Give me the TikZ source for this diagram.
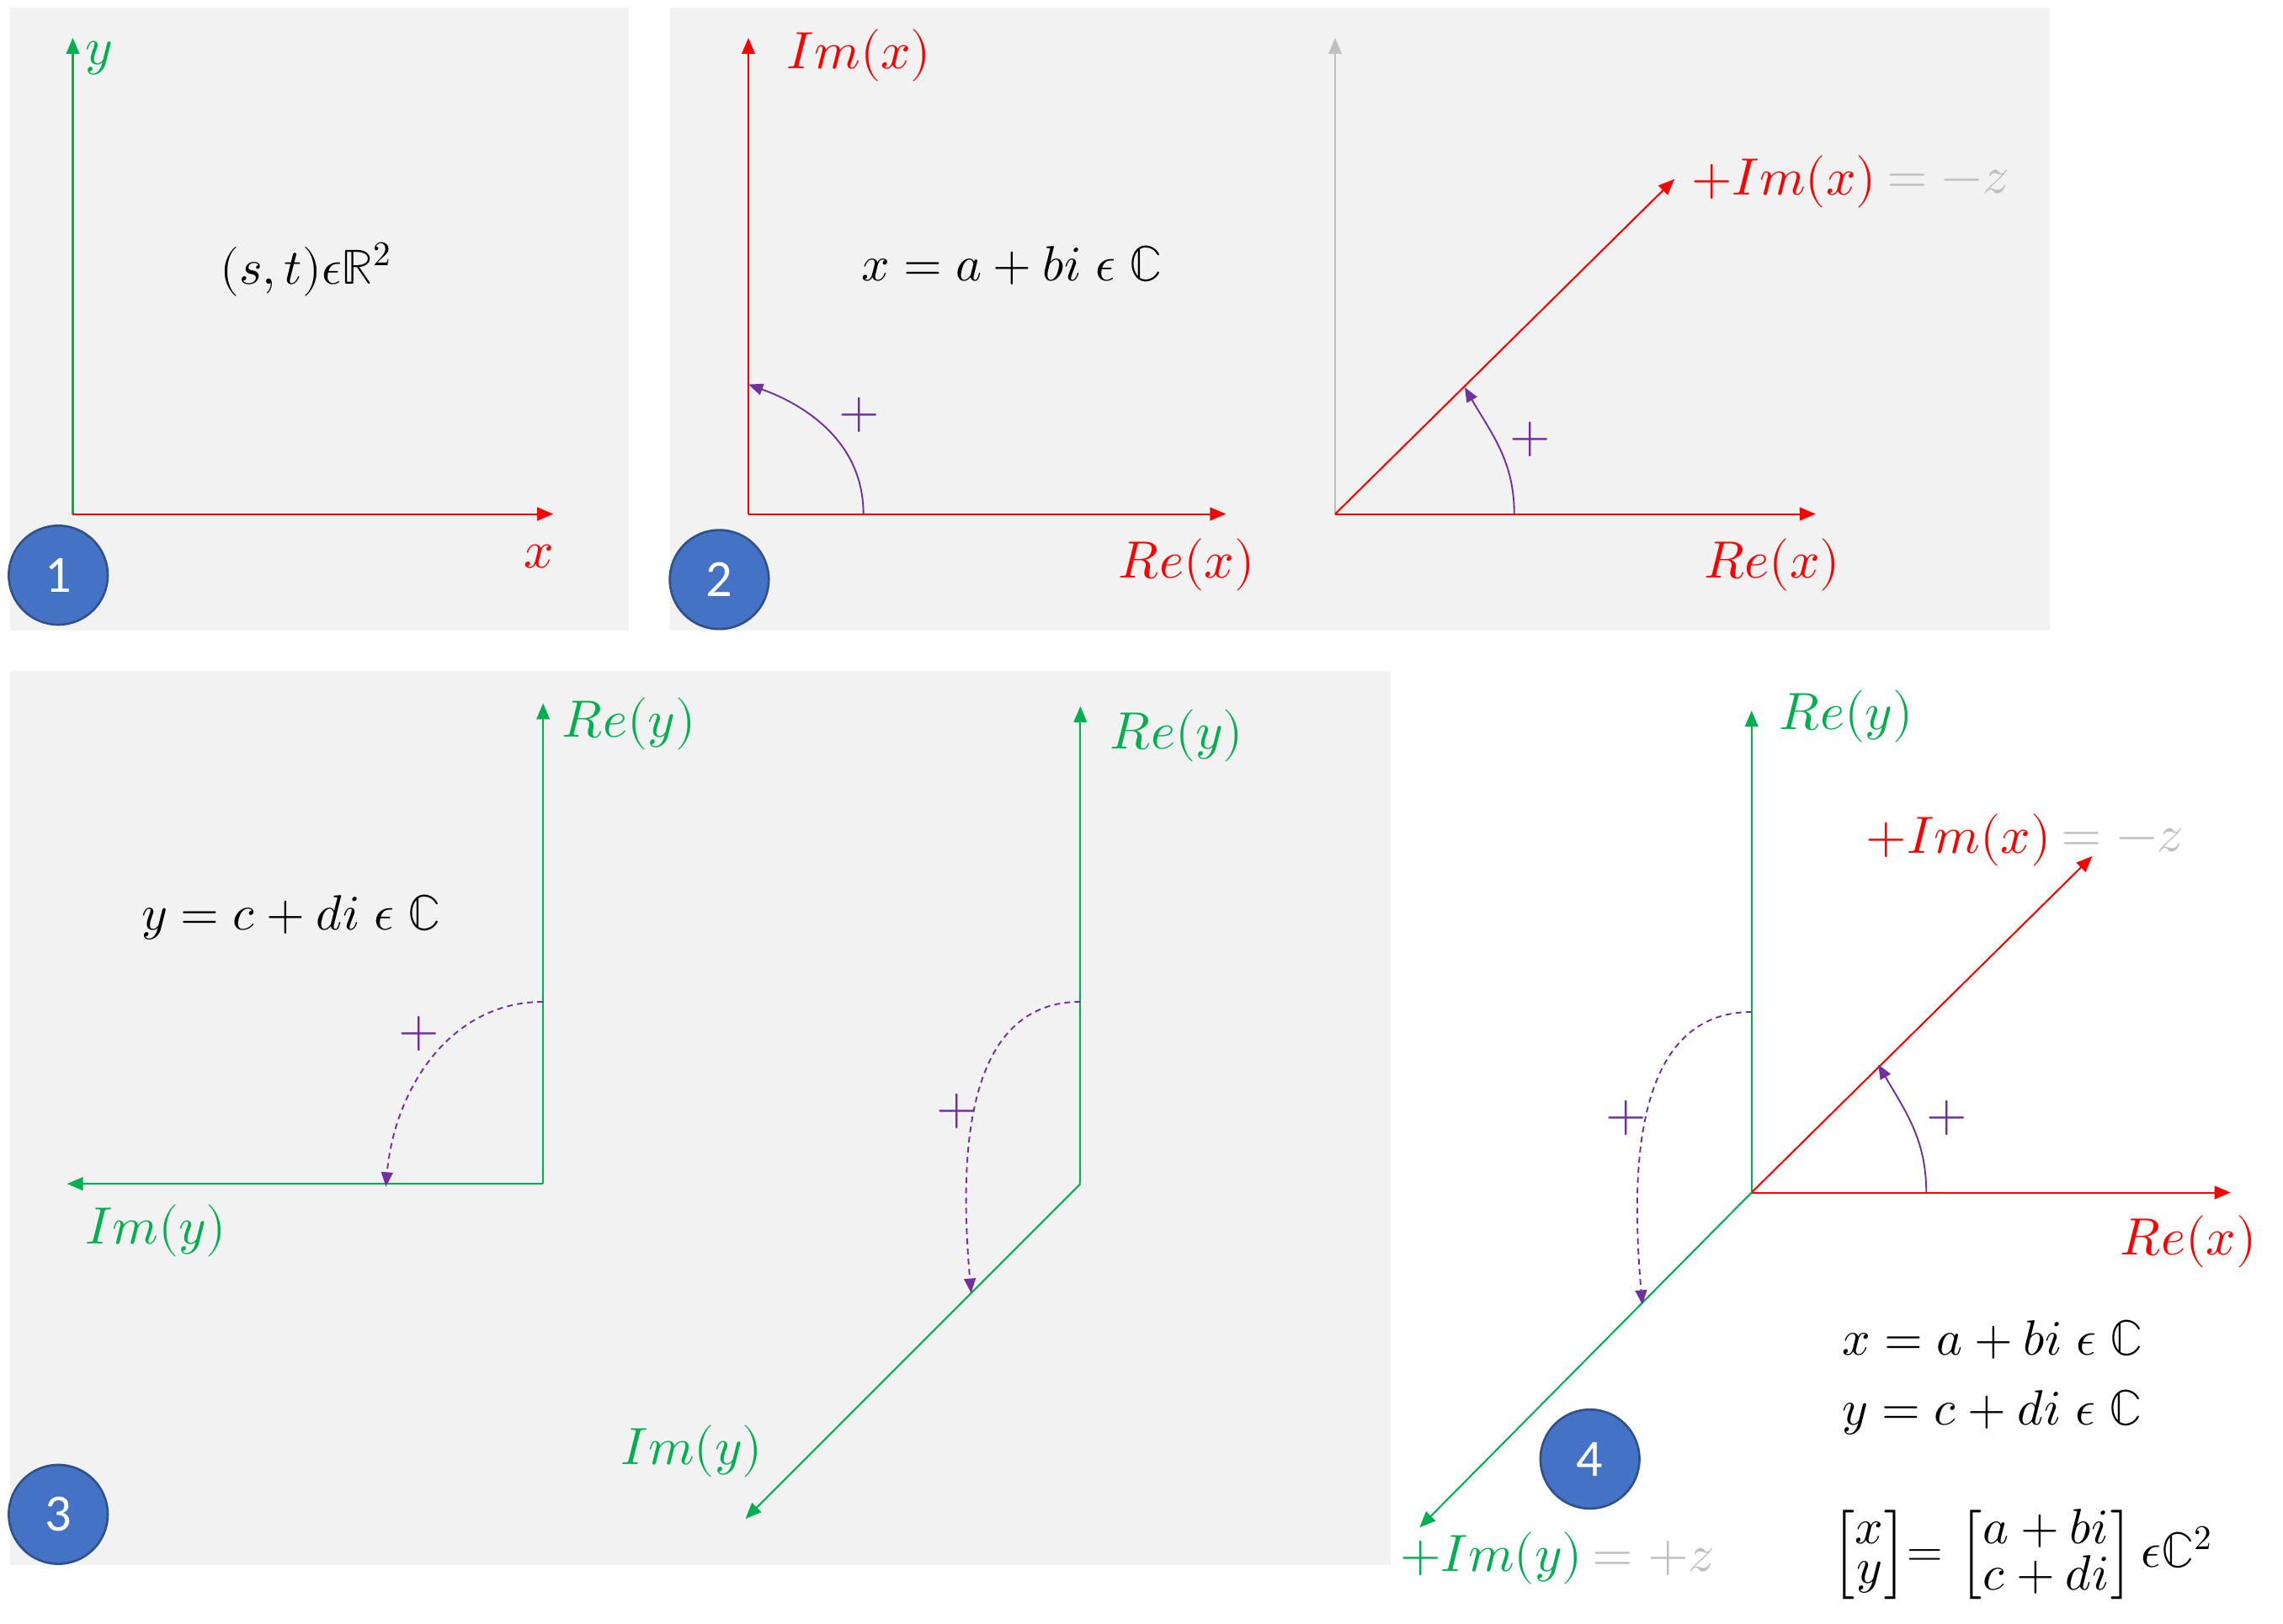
\documentclass[tikz,border=0pt]{standalone}
\usepackage{amsmath}
\usepackage{fontspec}
\usepackage{unicode-math}
\setmathfont{Latin Modern Math}
\setsansfont{Carlito}
\usetikzlibrary{arrows.meta}
\definecolor{cred}{RGB}{255,0,0}
\definecolor{cgreen}{RGB}{0,176,80}
\definecolor{cpurple}{RGB}{112,48,160}
\definecolor{cgray}{RGB}{191,191,191}
\definecolor{cpanel}{RGB}{242,242,242}
\definecolor{cblue}{RGB}{68,114,196}
\tikzset{
  axis/.style={line width=1.2pt,-{Triangle[length=11pt,width=9pt]}},
  rot/.style={cpurple,line width=1.1pt,-{Triangle[length=10pt,width=8pt]}},
  rotd/.style={rot,dash pattern=on 4pt off 3pt},
  lbl/.style={font=\fontsize{36}{42}\selectfont},
  eqn/.style={font=\fontsize{34}{40}\selectfont},
  num/.style={circle,fill=cblue,draw=cblue!70!black,line width=1.5pt,minimum size=68pt,
    text=white,font=\sffamily\fontsize{36}{42}\selectfont},
  panel/.style={fill=cpanel,draw=none}
}
\begin{document}
\begin{tikzpicture}[x=1pt,y=-1pt]
  \useasboundingbox (0,0) rectangle (1568,1115);
  % panels
  \path[panel] (7,5) rectangle (432,433);
  \path[panel] (460,5) rectangle (1408,433);
  \path[panel] (7,461) rectangle (955,1075);

  % panel 1
  \coordinate (o1) at (50,353);
  \coordinate (y1) at (50,26);
  \coordinate (x1) at (380,353);
  \draw[axis,cgreen] (o1) -- (y1);
  \draw[axis,cred] (o1) -- (x1);
  \node[lbl,cgreen] (ly1) at (68,40) {$y$};
  \node[lbl,cred] (lx1) at (370,382) {$x$};
  \node[eqn] (eq1) at (210,185) {$(s,t)\epsilon\mathbb{R}^2$};
  \node[num] (n1) at (40,395) {1};

  % panel 2, left
  \coordinate (o2) at (514,353);
  \coordinate (im2) at (514,26);
  \coordinate (re2) at (842,353);
  \coordinate (a2s) at (593,353);
  \coordinate (a2e) at (514,264);
  \draw[axis,cred] (o2) -- (im2);
  \draw[axis,cred] (o2) -- (re2);
  \draw[rot] (a2s) to[out=90,in=-20] (a2e);
  \node[lbl,cred] (lim2) at (590,38) {$Im(x)$};
  \node[lbl,cred] (lre2) at (815,388) {$Re(x)$};
  \node[lbl,cpurple] (p2) at (590,285) {$+$};
  \node[eqn] (eq2) at (695,182) {$x=a+bi\;\epsilon\;\mathbb{C}$};
  \node[num] (n2) at (494,398) {2};

  % panel 2, right
  \coordinate (o3) at (917,353);
  \coordinate (z3) at (917,26);
  \coordinate (re3) at (1247,353);
  \coordinate (im3) at (1150,123);
  \coordinate (a3s) at (1040,353);
  \coordinate (a3e) at (1006,266);
  \draw[axis,cgray] (o3) -- (z3);
  \draw[axis,cred] (o3) -- (re3);
  \draw[axis,cred] (o3) -- (im3);
  \draw[rot] (a3s) to[out=90,in=-60] (a3e);
  \node[lbl,cred,anchor=west] (lim3) at (1158,125) {$+Im(x)$};
  \node[lbl,cgray,anchor=west] (lz3) at (lim3.east) {$=-z$};
  \node[lbl,cred] (lre3) at (1217,388) {$Re(x)$};
  \node[lbl,cpurple] (p3) at (1051,302) {$+$};

  % panel 3, left
  \coordinate (o4) at (373,813);
  \coordinate (re4) at (373,483);
  \coordinate (im4) at (46,813);
  \coordinate (a4s) at (373,688);
  \coordinate (a4e) at (265,815);
  \draw[axis,cgreen] (o4) -- (re4);
  \draw[axis,cgreen] (o4) -- (im4);
  \draw[rotd] (a4s) to[out=180,in=85] (a4e);
  \node[lbl,cgreen] (lre4) at (432,497) {$Re(y)$};
  \node[lbl,cgreen] (lim4) at (107,845) {$Im(y)$};
  \node[lbl,cpurple] (p4) at (288,710) {$+$};
  \node[eqn] (eq4) at (200,630) {$y=c+di\;\epsilon\;\mathbb{C}$};
  \node[num] (n3) at (40,1040) {3};

  % panel 3, right
  \coordinate (o5) at (742,813);
  \coordinate (re5) at (742,485);
  \coordinate (im5) at (512,1043);
  \coordinate (a5s) at (742,688);
  \coordinate (a5e) at (667,888);
  \draw[axis,cgreen] (o5) -- (re5);
  \draw[axis,cgreen] (o5) -- (im5);
  \draw[rotd] (a5s) to[out=180,in=95] (a5e);
  \node[lbl,cgreen] (lre5) at (808,505) {$Re(y)$};
  \node[lbl,cgreen] (lim5) at (475,997) {$Im(y)$};
  \node[lbl,cpurple] (p5) at (657,763) {$+$};

  % panel 4
  \coordinate (o6) at (1203,819);
  \coordinate (rey6) at (1203,488);
  \coordinate (rex6) at (1532,819);
  \coordinate (imx6) at (1437,588);
  \coordinate (imy6) at (975,1049);
  \coordinate (a6s) at (1203,695);
  \coordinate (a6e) at (1128,896);
  \coordinate (b6s) at (1323,819);
  \coordinate (b6e) at (1290,731);
  \draw[axis,cgreen] (o6) -- (rey6);
  \draw[axis,cred] (o6) -- (rex6);
  \draw[axis,cred] (o6) -- (imx6);
  \draw[axis,cgreen] (o6) -- (imy6);
  \draw[rotd] (a6s) to[out=180,in=95] (a6e);
  \draw[rot] (b6s) to[out=90,in=-60] (b6e);
  \node[lbl,cgreen] (lrey6) at (1268,492) {$Re(y)$};
  \node[lbl,cred,anchor=west] (limx6) at (1278,577) {$+Im(x)$};
  \node[lbl,cgray,anchor=west] (lz6) at (limx6.east) {$=-z$};
  \node[lbl,cred] (lrex6) at (1503,853) {$Re(x)$};
  \node[lbl,cgreen,anchor=west] (limy6) at (958,1070) {$+Im(y)$};
  \node[lbl,cgray,anchor=west] (lz7) at (limy6.east) {$=+z$};
  \node[lbl,cpurple] (p6) at (1117,768) {$+$};
  \node[lbl,cpurple] (p7) at (1337,768) {$+$};
  \node[num] (n4) at (1092,1002) {4};
  \node[eqn,anchor=west] (eq6) at (1262,920) {$x=a+bi\;\epsilon\;\mathbb{C}$};
  \node[eqn,anchor=west] (eq7) at (1262,970) {$y=c+di\;\epsilon\;\mathbb{C}$};
  \node[eqn,anchor=west,inner sep=0pt] (eq8) at (1258,1068)
    {\renewcommand{\arraystretch}{0.68}\setlength{\arraycolsep}{2pt}%
     $\begin{bmatrix}x\\y\end{bmatrix}\!\text{=}\,\begin{bmatrix}a+bi\\c+di\end{bmatrix}\epsilon\mathbb{C}^2$};
\end{tikzpicture}
\end{document}
